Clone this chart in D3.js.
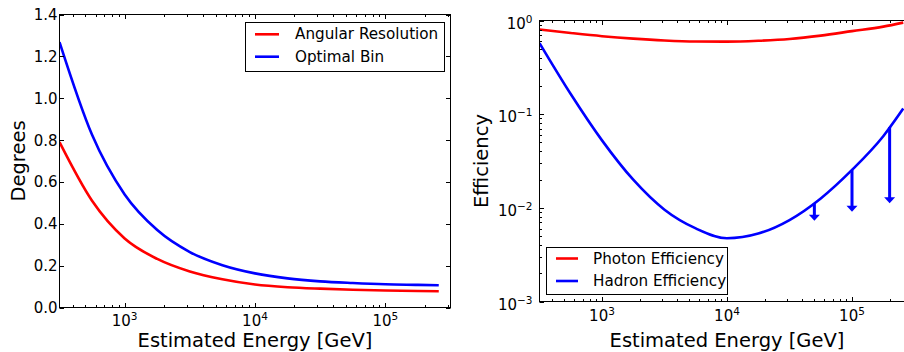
<!DOCTYPE html>
<html><head><meta charset="utf-8">
<script src="https://cdn.jsdelivr.net/npm/d3@7"></script>
<style>
html,body{margin:0;padding:0;background:#fff;}
svg{display:block;font-family:"DejaVu Sans",sans-serif;}
</style></head>
<body>
<svg id="c" width="904" height="352"></svg>
<script>
// ---------- data ----------
const energy      = [316.3, 562, 1000, 1778, 3162, 5623, 10000, 17783, 31623, 56234, 100000, 177828, 257000];
const angRes      = [0.79, 0.51, 0.33, 0.232, 0.172, 0.135, 0.11, 0.097, 0.09, 0.085, 0.081, 0.079, 0.078];
const optBin      = [1.268, 0.825, 0.54, 0.37, 0.265, 0.202, 0.163, 0.139, 0.125, 0.117, 0.111, 0.108, 0.106];
const photonEff   = [0.80, 0.735, 0.68, 0.64, 0.612, 0.597, 0.595, 0.608, 0.635, 0.69, 0.77, 0.86, 0.95];
const hadronEff   = [0.574, 0.164, 0.0525, 0.01995, 0.00955, 0.00603, 0.00473, 0.00531, 0.00741, 0.0126, 0.0254, 0.0582, 0.1148];
const limitEnergy = [50000, 100000, 200000];
const limitFrom   = [0.0112, 0.0253, 0.073];
const limitTo     = [0.0073, 0.0091, 0.0112];
const degTicks    = [0, 0.2, 0.4, 0.6, 0.8, 1.0, 1.2, 1.4];
const energyTicks = [1e3, 1e4, 1e5];
const energyTickExp = ["3", "4", "5"];
const effTicks    = [1e-3, 1e-2, 1e-1, 1];
const effTickExp  = ["\u22123", "\u22122", "\u22121", "0"];
const legendLeft  = ["Angular Resolution", "Optimal Bin"];
const legendRight = ["Photon Efficiency", "Hadron Efficiency"];
const colors      = ["#ff0000", "#0000ff"];

const svg = d3.select("#c");
const TICK_FS = 15, SUP_FS = 10.5, LABEL_FS = 19.5, LEG_FS = 15.2;

// ---------- scales ----------
const L = {x0: 59.5, x1: 450.5, y0: 14.5, y1: 307.5};
const R = {x0: 539.5, x1: 914.5, y0: 20.5, y1: 301.5};
const xL = d3.scaleLog().domain([10**2.5, 10**5.5]).range([L.x0, L.x1]);
const yL = d3.scaleLinear().domain([0, 1.4]).range([L.y1, L.y0]);
const xR = d3.scaleLog().domain([10**2.5, 10**5.5]).range([R.x0, R.x1]);
const yR = d3.scaleLog().domain([1e-3, 1]).range([R.y1, R.y0]);

function minorLog(lo, hi) {
  const out = [];
  for (let e = Math.floor(Math.log10(lo)); e <= Math.ceil(Math.log10(hi)); e++)
    for (let m = 2; m <= 9; m++) { const v = m * 10**e; if (v > lo && v < hi) out.push(v); }
  return out;
}

const defs = svg.append("defs");
defs.append("clipPath").attr("id","clipL").append("rect")
  .attr("x", L.x0).attr("y", L.y0).attr("width", L.x1-L.x0).attr("height", L.y1-L.y0);
defs.append("clipPath").attr("id","clipR").append("rect")
  .attr("x", R.x0).attr("y", R.y0).attr("width", R.x1-R.x0).attr("height", R.y1-R.y0);

// ---------- curves ----------
function drawCurve(g, xs, ys, vals, color) {
  const line = d3.line().x((d,i)=>xs(energy[i])).y(d=>ys(d)).curve(d3.curveMonotoneX);
  g.append("path").attr("d", line(vals)).attr("fill","none")
    .attr("stroke", color).attr("stroke-width", 2.6).attr("stroke-linejoin","round");
}
const gL = svg.append("g").attr("clip-path","url(#clipL)");
drawCurve(gL, xL, yL, angRes, colors[0]);
drawCurve(gL, xL, yL, optBin, colors[1]);
const gR = svg.append("g").attr("clip-path","url(#clipR)");
drawCurve(gR, xR, yR, photonEff, colors[0]);
drawCurve(gR, xR, yR, hadronEff, colors[1]);

// upper-limit arrows
limitEnergy.forEach((e,i) => {
  const x = xR(e), y0 = yR(limitFrom[i]), y1 = yR(limitTo[i]);
  const hl = 6, hw = 5.5;
  gR.append("line").attr("x1", x).attr("x2", x).attr("y1", y0).attr("y2", y1 - hl + 1)
    .attr("stroke", colors[1]).attr("stroke-width", 3);
  gR.append("path").attr("d", `M${x-hw},${y1-hl} L${x+hw},${y1-hl} L${x},${y1} Z`)
    .attr("fill", colors[1]);
});

// ---------- axes ----------
function frame(B) {
  svg.append("rect").attr("x", B.x0).attr("y", B.y0).attr("width", B.x1-B.x0).attr("height", B.y1-B.y0)
    .attr("fill","none").attr("stroke","#000").attr("stroke-width",1);
}
function xTicks(B, xs, majors, minors) {
  const g = svg.append("g").attr("stroke","#000").attr("stroke-width",1);
  const put = (v, len) => {
    const x = Math.round(xs(v)) + 0.5;
    if (x < B.x0 || x > B.x1) return;
    g.append("line").attr("x1",x).attr("x2",x).attr("y1",B.y1).attr("y2",B.y1-len);
    g.append("line").attr("x1",x).attr("x2",x).attr("y1",B.y0).attr("y2",B.y0+len);
  };
  majors.forEach(v => put(v, 4.5));
  minors.forEach(v => put(v, 2.5));
}
function yTicks(B, ys, majors, minors) {
  const g = svg.append("g").attr("stroke","#000").attr("stroke-width",1);
  const put = (v, len) => {
    const y = Math.round(ys(v)) + 0.5;
    g.append("line").attr("y1",y).attr("y2",y).attr("x1",B.x0).attr("x2",B.x0+len);
    g.append("line").attr("y1",y).attr("y2",y).attr("x1",B.x1).attr("x2",B.x1-len);
  };
  majors.forEach(v => put(v, 4.5));
  minors.forEach(v => put(v, 2.5));
}
function powLabel(g, x, y, exp, anchor) {
  const t = g.append("text").attr("x", x).attr("y", y).attr("text-anchor", anchor)
    .attr("font-size", TICK_FS).attr("fill","#000");
  t.append("tspan").text("10");
  t.append("tspan").attr("font-size", SUP_FS).attr("dy", -6).text(exp);
}

// left plot
frame(L);
xTicks(L, xL, energyTicks, minorLog(10**2.5, 10**5.5));
yTicks(L, yL, degTicks, []);
const tl = svg.append("g");
energyTicks.forEach((v,i) => powLabel(tl, xL(v), L.y1 + 18.5, energyTickExp[i], "middle"));
degTicks.forEach(v => tl.append("text").attr("x", L.x0 - 2).attr("y", yL(v) + 5.5)
  .attr("text-anchor","end").attr("font-size", TICK_FS).text(d3.format(".1f")(v)));
svg.append("text").attr("x", (L.x0+L.x1)/2).attr("y", 347).attr("text-anchor","middle")
  .attr("font-size", LABEL_FS).text("Estimated Energy [GeV]");
svg.append("text").attr("transform", `translate(25,${(L.y0+L.y1)/2}) rotate(-90)`)
  .attr("text-anchor","middle").attr("font-size", LABEL_FS).text("Degrees");

// right plot
frame(R);
xTicks(R, xR, energyTicks, minorLog(10**2.5, 10**5.5));
yTicks(R, yR, effTicks, minorLog(1e-3, 1));
const tr = svg.append("g");
energyTicks.forEach((v,i) => powLabel(tr, xR(v), R.y1 + 19, energyTickExp[i], "middle"));
effTicks.forEach((v,i) => powLabel(tr, R.x0 - 7, yR(v) + 8, effTickExp[i], "end"));
svg.append("text").attr("x", (R.x0+R.x1)/2).attr("y", 347).attr("text-anchor","middle")
  .attr("font-size", LABEL_FS).text("Estimated Energy [GeV]");
svg.append("text").attr("transform", `translate(488,${(R.y0+R.y1)/2}) rotate(-90)`)
  .attr("text-anchor","middle").attr("font-size", LABEL_FS).text("Efficiency");

// ---------- legends ----------
function legend(box, lineX, textX, rowsY, labels) {
  const g = svg.append("g");
  g.append("rect").attr("x", box[0]+0.5).attr("y", box[1]+0.5).attr("width", box[2]).attr("height", box[3])
    .attr("fill","#fff").attr("stroke","#000").attr("stroke-width",1);
  labels.forEach((lab,i) => {
    g.append("line").attr("x1", lineX[0]).attr("x2", lineX[1]).attr("y1", rowsY[i]).attr("y2", rowsY[i])
      .attr("stroke", colors[i]).attr("stroke-width", 2.6);
    g.append("text").attr("x", textX).attr("y", rowsY[i] + 5).attr("font-size", LEG_FS).text(lab);
  });
}
legend([245, 22, 199, 49], [255, 279], 295, [34.3, 56.7], legendLeft);
legend([546, 247, 181, 47], [556, 578], 593, [258.5, 281], legendRight);
</script>
</body></html>
